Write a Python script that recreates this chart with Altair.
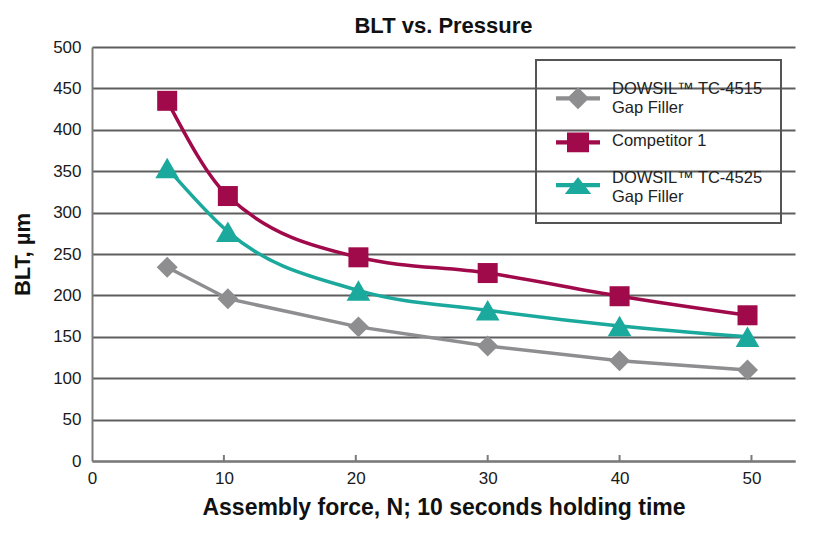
import altair as alt
import pandas as pd

# ---- data ----
force = [5.7, 10.3, 20.2, 30.0, 40.0, 49.7]
tc4515 = [234, 196, 162, 139, 121, 110]
competitor = [435, 320, 246, 227, 199, 176]
tc4525 = [354, 277, 206, 182, 163, 150]
series = ["DOWSIL™ TC-4515\nGap Filler", "Competitor 1", "DOWSIL™ TC-4525\nGap Filler"]
colors = ["#8e8e90", "#a0094a", "#1aa99c"]
shapes = ["diamond", "square", "triangle-up"]
sizes = [440, 400, 560]
interp = ["linear", "monotone", "monotone"]
x_ticks = [0, 10, 20, 30, 40, 50]
y_ticks = [0, 50, 100, 150, 200, 250, 300, 350, 400, 450, 500]

rows = []
for name, vals in zip(series, [tc4515, competitor, tc4525]):
    for f, v in zip(force, vals):
        rows.append({"series": name, "force": f, "blt": v})
df = pd.DataFrame(rows)
tick_df = pd.DataFrame({"force": x_ticks[1:], "blt": [0] * (len(x_ticks) - 1)})

FONT = "Liberation Sans"

x = alt.X(
    "force:Q",
    scale=alt.Scale(domain=[0, 53.3], nice=False, zero=True),
    axis=alt.Axis(
        values=x_ticks, title="Assembly force, N; 10 seconds holding time",
        grid=False, tickSize=0, labelPadding=9, titlePadding=10,
        labelFontSize=17, titleFontSize=23, labelFlush=False,
    ),
)
y = alt.Y(
    "blt:Q",
    scale=alt.Scale(domain=[0, 500], nice=False),
    axis=alt.Axis(
        values=y_ticks, title="BLT, µm", grid=True, tickSize=0,
        labelPadding=11, titlePadding=18, labelFontSize=17, titleFontSize=22,
    ),
)

base = alt.Chart(df)

line_layers = [
    base.transform_filter(alt.datum.series == s).mark_line(
        strokeWidth=3.5, interpolate=ip, color=c
    ).encode(x=x, y=y)
    for s, c, ip in zip(series, colors, interp)
]

point_layers = [
    base.transform_filter(alt.datum.series == s).mark_point(
        filled=True, opacity=1, shape=sh, size=sz, color=c
    ).encode(x=x, y=y)
    for s, c, sh, sz in zip(series, colors, shapes, sizes)
]

# small inward tick marks on the x axis
ticks = alt.Chart(tick_df).mark_rule(
    color="#7a7a7a", strokeWidth=2, y2Offset=-6
).encode(x=x, y=y, y2=alt.Y2("blt"))

# legend symbols: a bar with the marker, like the reference key
def bar(d):
    return f"M-2,{d - 0.19:.2f}H2V{d + 0.19:.2f}H-2Z"

d1, d2, d3 = 0.85, 0.12, 0.64
legend_paths = [
    bar(d1) + f"M0,{d1 - 1:.2f}L1,{d1:.2f}L0,{d1 + 1:.2f}L-1,{d1:.2f}Z",
    bar(d2) + f"M-1,{d2 - 0.9:.2f}H1V{d2 + 0.9:.2f}H-1Z",
    bar(d3) + "M0,-0.1L1.2,1.45H-1.2Z",
]
leg = alt.Legend(
    title=None, orient="none", legendX=444, legendY=13,
    labelExpr="split(datum.label, '\\n')",
    symbolSize=484, symbolOffset=13, labelOffset=23, padding=18,
    strokeColor="#555555", labelFontSize=16.5, labelLimit=400,
    labelColor="#222222", rowPadding=14, symbolStrokeWidth=0,
)
legend_layer = base.transform_filter("false").mark_point(filled=True, opacity=1).encode(
    x=x, y=y,
    color=alt.Color("series:N", scale=alt.Scale(domain=series, range=colors), legend=leg),
    shape=alt.Shape("series:N", scale=alt.Scale(domain=series, range=legend_paths), legend=leg),
)

chart = alt.layer(*line_layers, *point_layers, ticks, legend_layer).properties(
    width=703, height=414,
    title=alt.TitleParams("BLT vs. Pressure", fontSize=22, font=FONT, fontWeight="bold",
                          anchor="middle", offset=0, color="#111111"),
    autosize=alt.AutoSizeParams(type="none"),
    padding={"left": 84, "top": 39, "right": 21, "bottom": 64},
).configure(
    font=FONT, background="white"
).configure_view(
    stroke=None
).configure_axis(
    labelFont=FONT, titleFont=FONT, labelColor="#1a1a1a", titleColor="#111111",
    titleFontWeight="bold", domainColor="#7a7a7a", domainWidth=2,
    gridColor="#5e5e5e", gridWidth=2,
).configure_legend(
    strokeWidth=2
)

chart.save("out.html", embed_options={"renderer": "svg", "actions": False})
